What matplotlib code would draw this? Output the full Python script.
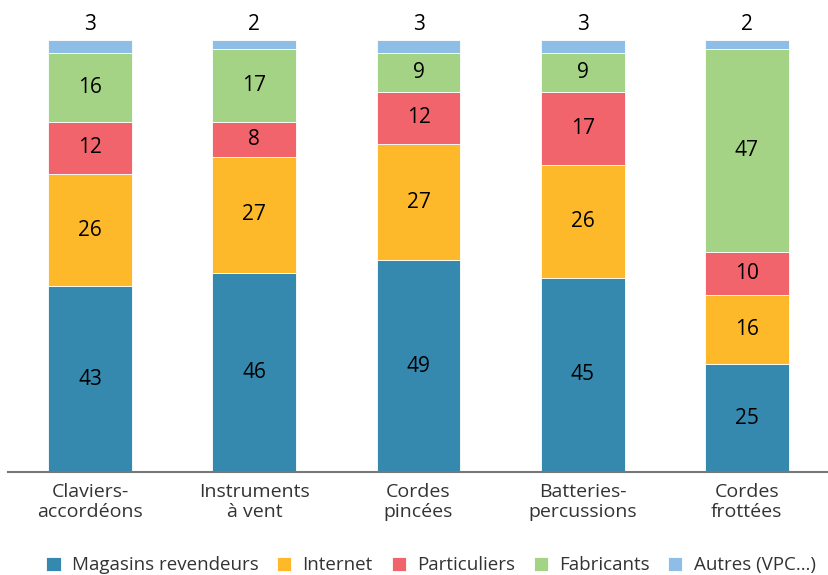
import numpy as np
import matplotlib.pyplot as plt

plt.rcParams['font.family'] = ['Open Sans', 'DejaVu Sans']

categories = ['Claviers-\naccordéons', 'Instruments\nà vent', 'Cordes\npincées',
              'Batteries-\npercussions', 'Cordes\nfrottées']
series = ['Magasins revendeurs', 'Internet', 'Particuliers', 'Fabricants', 'Autres (VPC…)']
magasins = [43, 46, 49, 45, 25]
internet = [26, 27, 27, 26, 16]
particuliers = [12, 8, 12, 17, 10]
fabricants = [16, 17, 9, 9, 47]
autres = [3, 2, 3, 3, 2]
colors = ['#3589ae', '#fdb92a', '#f2646c', '#a5d386', '#8ebde6']

values = [magasins, internet, particuliers, fabricants, autres]

fig = plt.figure(figsize=(8.29, 5.75), dpi=100)
ax = fig.add_axes([0.0097, 0.179, 0.9903, 0.8116])

x = np.arange(len(categories))
bottom = np.zeros(len(categories))
for name, vals, col in zip(series, values, colors):
    vals = np.array(vals)
    ax.bar(x, vals, 0.51, bottom=bottom, color=col, label=name,
           edgecolor='white', linewidth=0.6)
    for xi, b, v in zip(x, bottom, vals):
        if name == 'Autres (VPC…)':
            ax.text(xi, b + v + 1.2, str(v), ha='center', va='bottom', fontsize=15)
        else:
            ax.text(xi, b + v / 2, str(v), ha='center', va='center', fontsize=15)
    bottom += vals

ax.set_xlim(-0.5, 4.5)
ax.set_ylim(0, 108)
ax.set_yticks([])
ax.set_xticks(x)
ax.set_xticklabels(categories, fontsize=14, color='#333333', linespacing=1.15)
ax.tick_params(axis='x', length=0, pad=8)
for s in ['top', 'right', 'left']:
    ax.spines[s].set_visible(False)
ax.spines['bottom'].set_color('#777777')
ax.spines['bottom'].set_linewidth(1.5)

fig.legend(loc='lower center', bbox_to_anchor=(0.52, -0.028), ncol=5, frameon=False,
           fontsize=13.5, handlelength=0.75, handleheight=0.75, columnspacing=1.0,
           handletextpad=0.6, labelcolor='#333333')

fig.savefig('out.png', dpi=100)
